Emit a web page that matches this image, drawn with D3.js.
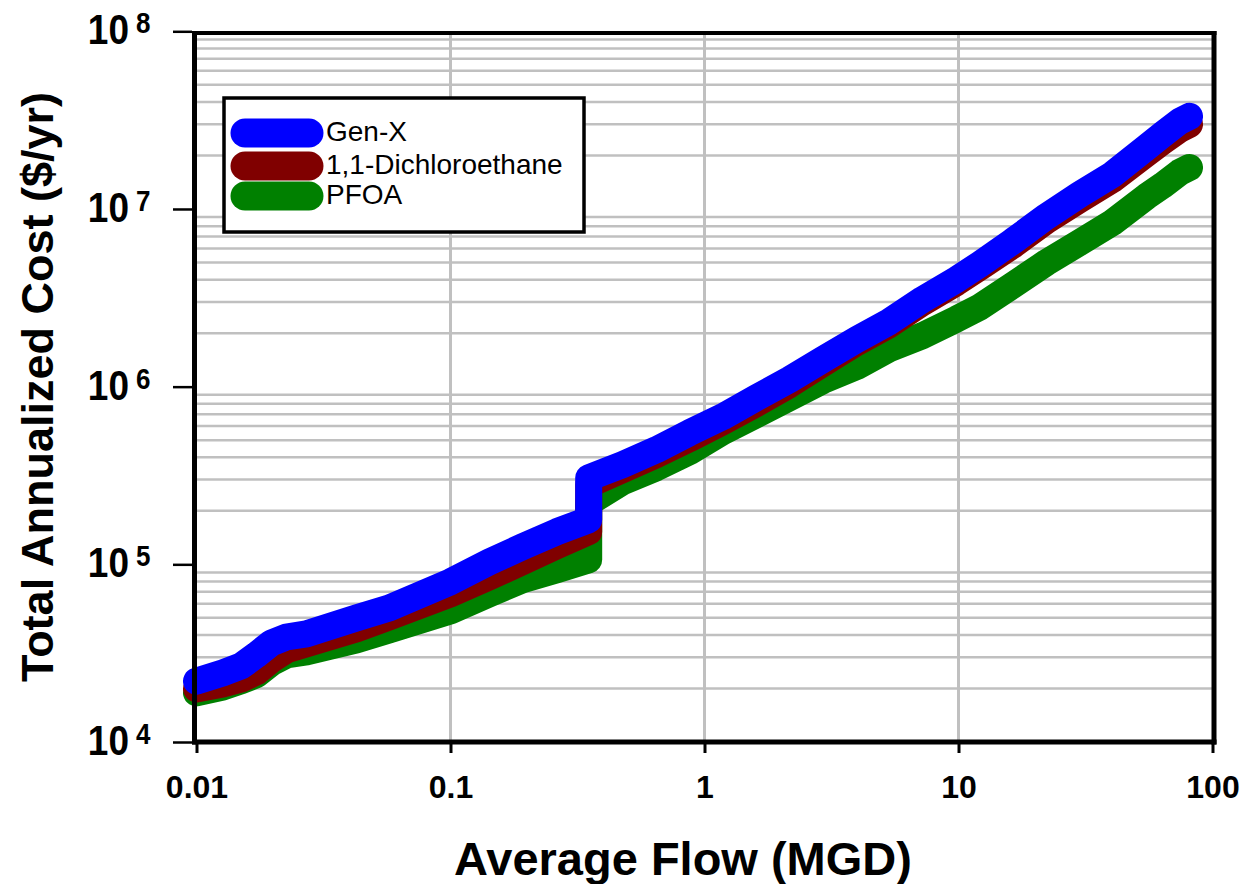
<!DOCTYPE html>
<html>
<head>
<meta charset="utf-8">
<script src="https://cdn.jsdelivr.net/npm/d3@7"></script>
<style>
  body { margin: 0; background: #fff; }
  svg { display: block; font-family: Arial, "Liberation Sans", sans-serif; }
</style>
</head>
<body>
<svg id="chart" width="1241" height="884"></svg>
<script>
// flow (MGD) where the curves were read, jump at 0.35 MGD appears twice
const flows = [0.01, 0.0127, 0.015, 0.0172, 0.0197, 0.0226, 0.0271, 0.0427, 0.0575, 0.1,
    0.142, 0.192, 0.262, 0.35, 0.35, 0.476, 0.647, 0.873, 1.18, 1.6,
    2.16, 2.92, 3.97, 5.35, 7.22, 9.82, 12.1, 16.3, 22.2, 30,
    40.4, 55, 63.6, 74.2, 81.2];

const genX = [22000, 24500, 26800, 30900, 36100, 39000, 40600, 50000, 56900, 79700,
    103000, 125500, 152500, 178000, 307000, 364000, 442000, 551000, 678000, 867000,
    1095000, 1419000, 1840000, 2324000, 3091000, 4007000, 4868000, 6560000, 9072000, 12070000,
    15650000, 22200000, 26280000, 31120000, 33200000];

const dichloroethane = [19900, 21200, 22600, 24800, 29000, 33000, 35700, 43300, 50600, 68200,
    85000, 103300, 127100, 152500, 280500, 340700, 414000, 509300, 635100, 802200,
    1026000, 1348000, 1770000, 2236000, 2974000, 3854000, 4682000, 6228000, 8612000, 11310000,
    14660000, 20540000, 24010000, 28050000, 29930000];

const pfoa = [18900, 20400, 22100, 23900, 27900, 30900, 32100, 37600, 42800, 54700,
    68200, 81800, 93100, 106000, 222100, 291600, 349700, 430400, 557900, 695700,
    867000, 1081000, 1296000, 1637000, 1938000, 2400000, 2800000, 3707000, 4995000, 6476000,
    8394000, 11760000, 13570000, 16060000, 17130000];

const seriesNames = ["Gen-X", "1,1-Dichloroethane", "PFOA"];
const seriesColors = ["#0000ff", "#800000", "#008000"];

const xTicks = [0.01, 0.1, 1, 10, 100];
const xTickLabels = ["0.01", "0.1", "1", "10", "100"];
const yTicks = [1e4, 1e5, 1e6, 1e7, 1e8];
const yExponents = ["4", "5", "6", "7", "8"];

const svg = d3.select('#chart');

const x = d3.scaleLog().domain([0.01, 100]).range([196.5, 1212.5]);
const y = d3.scaleLog().domain([1e4, 1e8]).range([742, 31.3]);

// grid: horizontal at 2..9 x 10^n only, vertical at inner decades
const minorY = [];
for (let p = 4; p < 8; p++) {
    for (let k = 2; k <= 9; k++) minorY.push(k * Math.pow(10, p));
}

const grid = svg.append('g').attr('class', 'grid');
grid.selectAll('line.h')
    .data(minorY)
    .enter().append('line')
    .attr('class', 'h')
    .attr('x1', x(0.01)).attr('x2', x(100))
    .attr('y1', d => y(d)).attr('y2', d => y(d))
    .attr('stroke', '#c0c0c0')
    .attr('stroke-width', 2.5);

grid.selectAll('line.v')
    .data([0.1, 1, 10])
    .enter().append('line')
    .attr('class', 'v')
    .attr('x1', d => x(d)).attr('x2', d => x(d))
    .attr('y1', y(1e8)).attr('y2', y(1e4))
    .attr('stroke', '#c0c0c0')
    .attr('stroke-width', 3);

// series, PFOA underneath, Gen-X on top
const series = [
    { name: seriesNames[2], values: pfoa, color: seriesColors[2] },
    { name: seriesNames[1], values: dichloroethane, color: seriesColors[1] },
    { name: seriesNames[0], values: genX, color: seriesColors[0] }
];

const line = d3.line()
    .x(d => x(d[0]))
    .y(d => y(d[1]));

svg.append('g')
    .selectAll('path')
    .data(series)
    .enter().append('path')
    .attr('d', d => line(flows.map((f, i) => [f, d.values[i]])))
    .attr('fill', 'none')
    .attr('stroke', d => d.color)
    .attr('stroke-width', 27)
    .attr('stroke-linejoin', 'round')
    .attr('stroke-linecap', 'round');

// frame
const frame = svg.append('g').attr('stroke', '#000');
frame.append('line').attr('x1', 194.5).attr('x2', 194.5).attr('y1', 31).attr('y2', 744.5).attr('stroke-width', 5);
frame.append('line').attr('x1', 192).attr('x2', 1216.5).attr('y1', 742).attr('y2', 742).attr('stroke-width', 5);
frame.append('line').attr('x1', 192).attr('x2', 1216.5).attr('y1', 33).attr('y2', 33).attr('stroke-width', 4);
frame.append('line').attr('x1', 1214).attr('x2', 1214).attr('y1', 31).attr('y2', 744.5).attr('stroke-width', 5);

// x axis
const xAxis = svg.append('g')
    .attr('transform', 'translate(0,742)')
    .call(d3.axisBottom(x)
        .tickValues(xTicks)
        .tickSize(11)
        .tickPadding(22)
        .tickFormat((d, i) => xTickLabels[i]));
xAxis.select('.domain').remove();
xAxis.selectAll('.tick line').attr('stroke', '#000').attr('stroke-width', 3);
xAxis.selectAll('.tick text')
    .attr('fill', '#000')
    .attr('font-family', 'Arial, "Liberation Sans", sans-serif')
    .attr('font-size', 32)
    .attr('font-weight', 'bold');

// y axis
const yAxis = svg.append('g')
    .attr('transform', 'translate(192,0)')
    .call(d3.axisLeft(y)
        .tickValues(yTicks)
        .tickSize(19)
        .tickFormat(''));
yAxis.select('.domain').remove();
yAxis.selectAll('.tick line').attr('stroke', '#000').attr('stroke-width', 2.5);

const yLab = svg.append('g').selectAll('g')
    .data(yTicks)
    .enter().append('g');

yLab.append('text')
    .attr('transform', d => `translate(129,${y(d) + 13}) scale(1,1.15)`)
    .attr('text-anchor', 'end')
    .attr('font-size', 37)
    .attr('font-weight', 'bold')
    .text('10');

yLab.append('text')
    .attr('transform', d => `translate(136,${y(d) + 2}) scale(1,1.15)`)
    .attr('text-anchor', 'start')
    .attr('font-size', 26)
    .attr('font-weight', 'bold')
    .text((d, i) => yExponents[i]);

// axis titles
svg.append('text')
    .attr('x', 683)
    .attr('y', 875)
    .attr('text-anchor', 'middle')
    .attr('font-size', 47)
    .attr('font-weight', 'bold')
    .text('Average Flow (MGD)');

svg.append('text')
    .attr('transform', 'translate(53,387) rotate(-90)')
    .attr('text-anchor', 'middle')
    .attr('font-size', 45)
    .attr('font-weight', 'bold')
    .text('Total Annualized Cost ($/yr)');

// legend
const legend = svg.append('g');
legend.append('rect')
    .attr('x', 224).attr('y', 98)
    .attr('width', 360).attr('height', 134)
    .attr('fill', '#fff')
    .attr('stroke', '#000')
    .attr('stroke-width', 3.5);

const legendRows = [
    { name: seriesNames[2], color: seriesColors[2], y: 196 },
    { name: seriesNames[1], color: seriesColors[1], y: 166 },
    { name: seriesNames[0], color: seriesColors[0], y: 133 }
];

legend.selectAll('line')
    .data(legendRows)
    .enter().append('line')
    .attr('x1', 245).attr('x2', 309)
    .attr('y1', d => d.y).attr('y2', d => d.y)
    .attr('stroke', d => d.color)
    .attr('stroke-width', 29)
    .attr('stroke-linecap', 'round');

legend.selectAll('text')
    .data(legendRows)
    .enter().append('text')
    .attr('x', 326)
    .attr('y', d => d.y + 8)
    .attr('font-size', 28)
    .attr('fill', '#000')
    .text(d => d.name);
</script>
</body>
</html>
